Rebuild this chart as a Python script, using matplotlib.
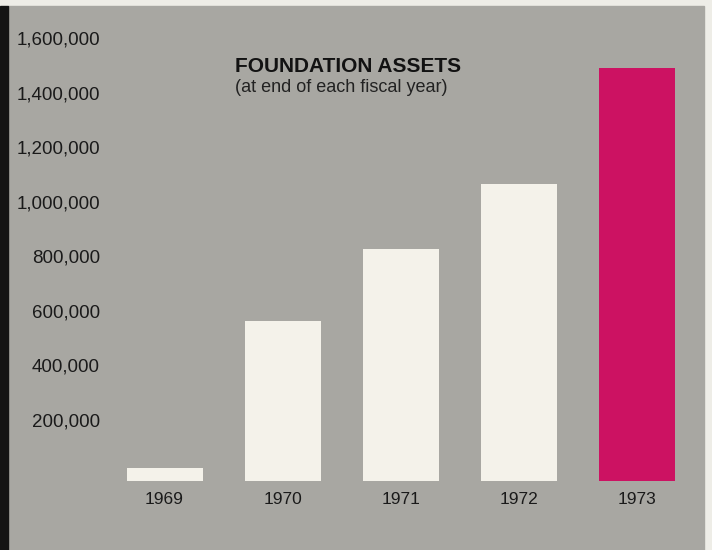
import matplotlib.pyplot as plt
from matplotlib.patches import Rectangle
from matplotlib.ticker import FuncFormatter

# Donnees
years = ['1969', '1970', '1971', '1972', '1973']
assets = [49000, 587000, 851000, 1089000, 1514000]
ticks = [200000, 400000, 600000, 800000, 1000000, 1200000, 1400000, 1600000]

bar_colors = ['#f4f2ea', '#f4f2ea', '#f4f2ea', '#f4f2ea', '#cc1262']
grey = '#a8a7a2'
paper = '#eeede7'

plt.rcParams['font.family'] = ['Liberation Sans', 'DejaVu Sans']

W, H = 712, 550
fig = plt.figure(figsize=(W / 100, H / 100), dpi=100, facecolor=paper)

# fond gris + bande noire a gauche (derriere les axes)
fig.patches.append(Rectangle((8 / W, 0), (704 - 8) / W, (H - 6) / H,
                             transform=fig.transFigure, color=grey, zorder=-5))
fig.patches.append(Rectangle((0, 0), 8 / W, (H - 6) / H,
                             transform=fig.transFigure, color='#141414', zorder=-5))

# axes : base a y=481 px, 1 700 000 en haut
ax = fig.add_axes([108 / W, (H - 481) / H, 592 / W, 463.6 / H])
ax.set_facecolor('none')
for s in ax.spines.values():
    s.set_visible(False)

x = range(len(years))
ax.bar(x, assets, width=0.643, color=bar_colors)

ax.set_xlim(-0.478, 4.529)
ax.set_ylim(0, 1700000)
ax.set_xticks(list(x))
ax.set_xticklabels(years)
ax.set_yticks(ticks)
ax.yaxis.set_major_formatter(FuncFormatter(lambda v, p: f'{int(v):,}'))
ax.tick_params(axis='both', length=0, labelsize=13.5, colors='#1a1a1a')
ax.tick_params(axis='y', pad=5.8)
ax.tick_params(axis='x', pad=8.0, labelsize=12.5)
for lab in ax.get_yticklabels():
    lab.set_va('baseline')

# titre
fig.text(235 / W, 1 - 66 / H, 'FOUNDATION ASSETS', fontsize=15, fontweight='bold',
         color='#121212', ha='left', va='center')
fig.text(235 / W, 1 - 88 / H, '(at end of each fiscal year)', fontsize=13,
         color='#222222', ha='left', va='center')

plt.savefig('out.png', dpi=100, facecolor=paper)
